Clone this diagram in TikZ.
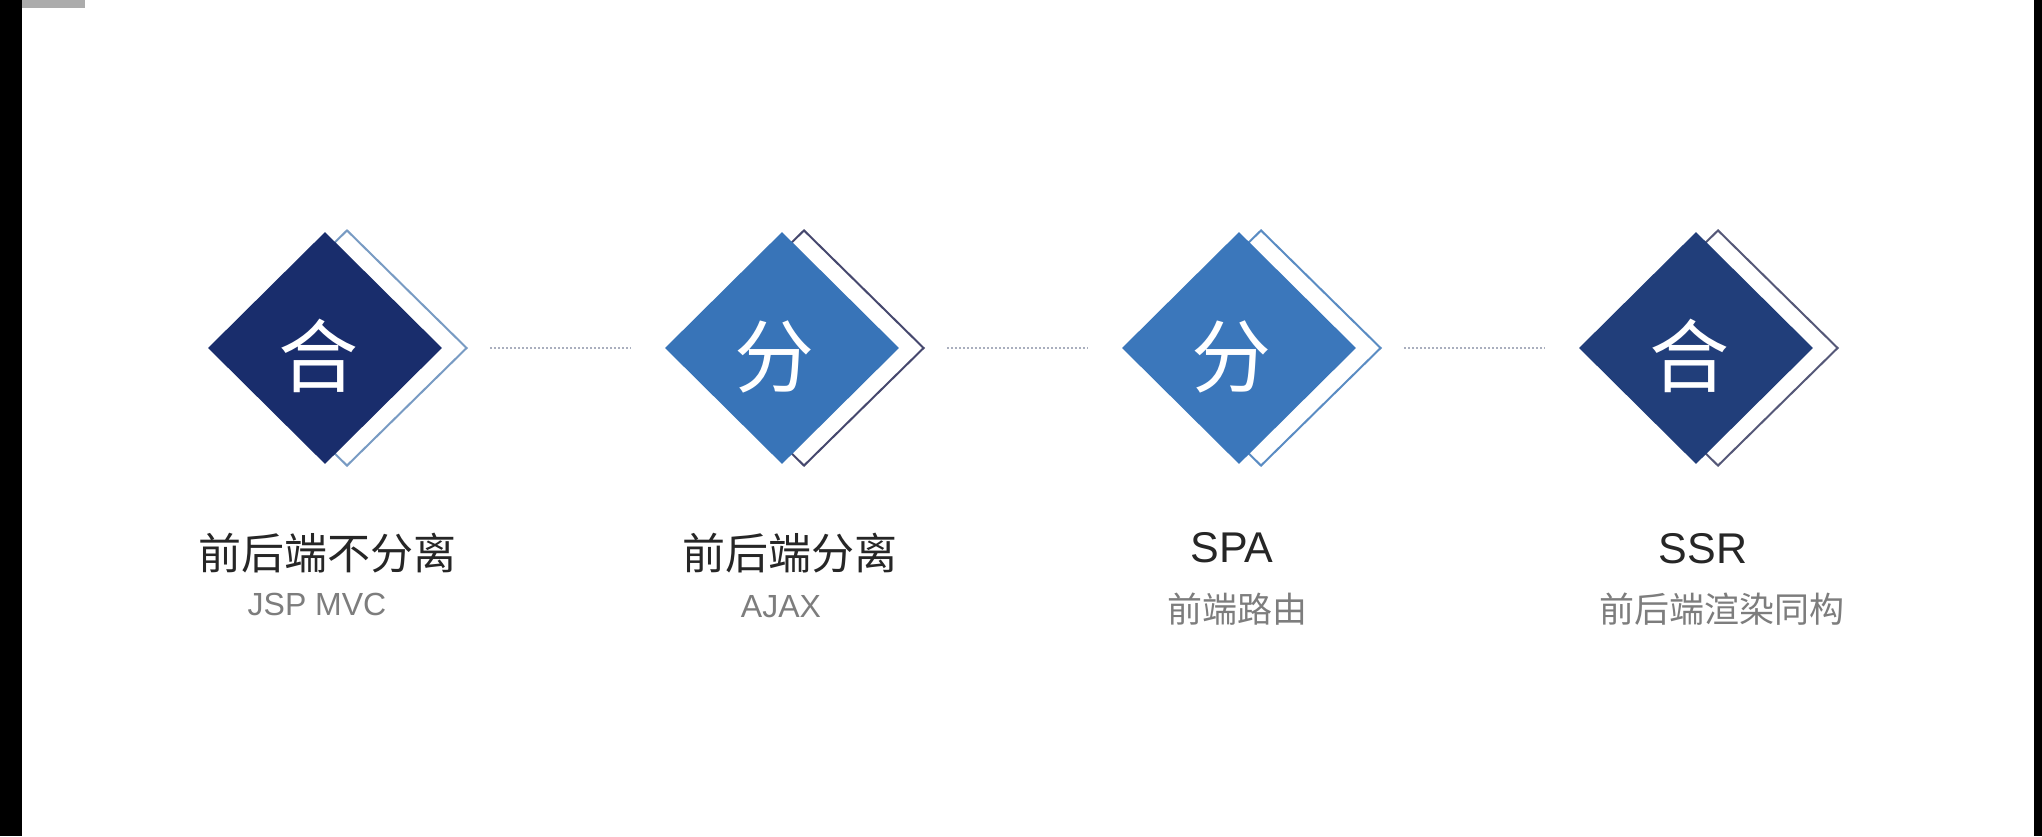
\documentclass[tikz,border=0pt]{standalone}
\usepackage{fontspec}
\setmainfont{Liberation Sans}
\newfontfamily\cjk{Noto Sans CJK SC}
\usetikzlibrary{shapes.geometric,positioning}

\definecolor{navy}{RGB}{25,45,108}
\definecolor{navydeep}{RGB}{33,62,122}
\definecolor{azure}{RGB}{56,116,184}
\definecolor{azurelt}{RGB}{59,119,187}
\definecolor{mist}{RGB}{120,155,195}
\definecolor{slate}{RGB}{70,72,110}
\definecolor{steel}{RGB}{90,140,195}
\definecolor{slatelt}{RGB}{85,88,120}
\definecolor{ink}{RGB}{38,38,38}
\definecolor{subgray}{RGB}{125,125,125}
\definecolor{linegray}{RGB}{170,175,190}

\begin{document}
\begin{tikzpicture}[x=1pt,y=-1pt,
  node distance=215pt,
  tile/.style={diamond,inner sep=0pt,minimum width=234pt,minimum height=232pt},
  frame/.style={diamond,draw,line width=2pt,inner sep=0pt,
    minimum width=240pt,minimum height=236pt},
  glyph/.style={inner sep=0pt,text=white,font=\cjk\fontsize{80}{80}\selectfont},
  title/.style={anchor=base,inner sep=0pt,text=ink,font=\fontsize{43}{43}\selectfont},
  sub/.style={anchor=base,inner sep=0pt,text=subgray,font=\fontsize{32}{32}\selectfont},
  link/.style={draw=linegray,line width=1.4pt,dash pattern=on 2pt off 2pt,
    shorten <=22pt,shorten >=34pt}
]
\useasboundingbox (0,0) rectangle (2042,836);
\fill[white] (0,0) rectangle (2042,836);
% screen edges
\fill[black] (0,0) rectangle (22,836);
\fill[black] (2034,0) rectangle (2042,836);
\fill[gray!65] (22,0) rectangle (85,8);

% outline diamonds behind
\node[frame,draw=mist] (he1f) at (347,348) {};
\node[frame,draw=slate,right=of he1f] (fen2f) {};
\node[frame,draw=steel,right=of fen2f] (fen3f) {};
\node[frame,draw=slatelt,right=of fen3f] (he4f) {};

% filled diamonds
\node[tile,fill=navy] (he1) at ([xshift=-22pt]he1f.center) {};
\node[tile,fill=azure] (fen2) at ([xshift=-22pt]fen2f.center) {};
\node[tile,fill=azurelt] (fen3) at ([xshift=-22pt]fen3f.center) {};
\node[tile,fill=navydeep] (he4) at ([xshift=-22pt]he4f.center) {};

\node[glyph] (he1c) at ([shift={(-7,8)}]he1.center) {合};
\node[glyph] (fen2c) at ([shift={(-8,9)}]fen2.center) {分};
\node[glyph] (fen3c) at ([shift={(-8,9)}]fen3.center) {分};
\node[glyph] (he4c) at ([shift={(-7,8)}]he4.center) {合};

\draw[link] (he1f.east) -- (fen2.west);
\draw[link] (fen2f.east) -- (fen3.west);
\draw[link] (fen3f.east) -- (he4.west);

% labels
\node[title] (t1) at (327,569) {\cjk 前后端不分离};
\node[sub] (s1) at (317,615) {JSP MVC};
\node[title] (t2) at (790,569) {\cjk 前后端分离};
\node[sub] (s2) at (781,617) {AJAX};
\node[title] (t3) at (1232,562) {SPA};
\node[sub,font=\cjk\fontsize{35}{35}\selectfont] (s3) at (1237,622) {前端路由};
\node[title] (t4) at (1703,563) {SSR};
\node[sub,font=\cjk\fontsize{35}{35}\selectfont] (s4) at (1722,622) {前后端渲染同构};
\end{tikzpicture}
\end{document}
